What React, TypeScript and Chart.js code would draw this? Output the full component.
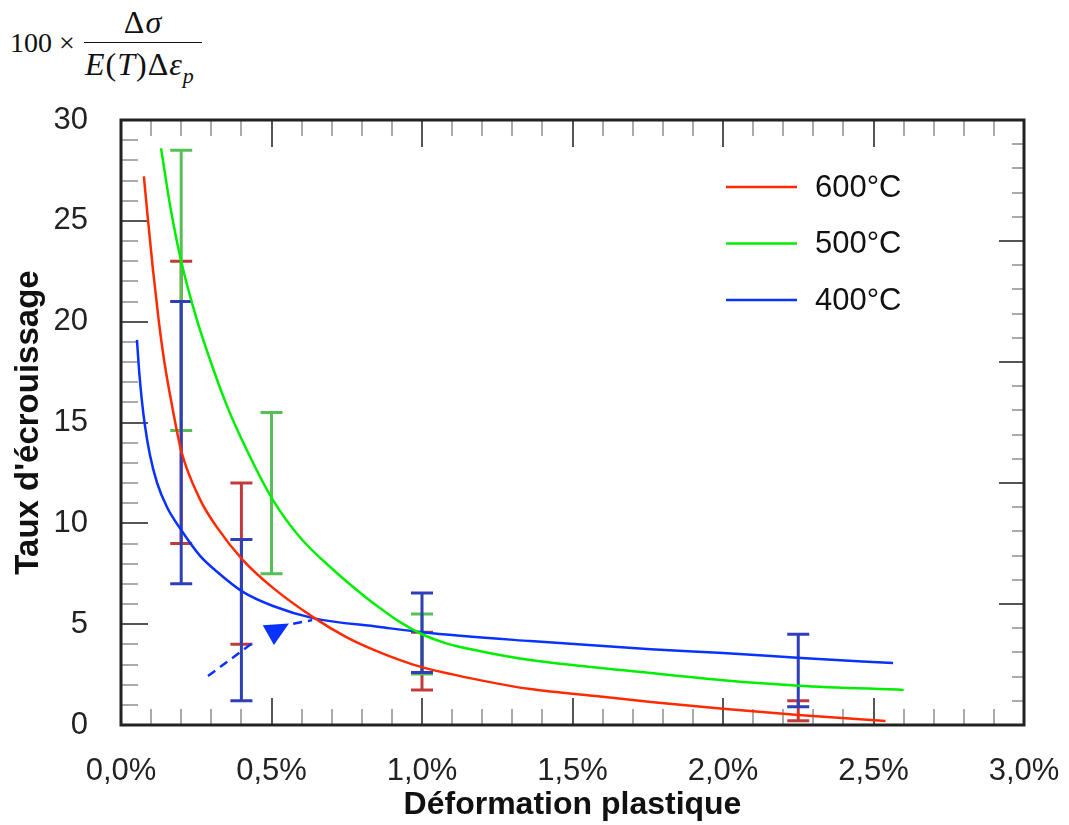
import React, { useEffect, useRef } from 'react';
import { Chart, registerables } from 'chart.js';
Chart.register(...registerables);

// ---- Data ----
const seriesLabels = ['600°C', '500°C', '400°C'];
const seriesColors = ['#ff2a00', '#00ee00', '#0a32ff'];

const x600 = [0.076, 0.09, 0.106, 0.125, 0.143, 0.17, 0.2, 0.262, 0.319, 0.405, 0.505, 0.638, 0.75, 0.86, 0.927, 1.0, 1.2, 1.36, 1.6, 1.76, 2.0, 2.25, 2.54];
const y600 = [27.2, 25.0, 22.6, 20.1, 18.1, 15.8, 13.6, 11.2, 9.8, 8.18, 6.8, 5.35, 4.35, 3.6, 3.22, 2.87, 2.2, 1.78, 1.4, 1.14, 0.8, 0.5, 0.2];

const x500 = [0.133, 0.165, 0.2, 0.25, 0.296, 0.35, 0.419, 0.505, 0.595, 0.705, 0.816, 0.86, 0.927, 1.0, 1.08, 1.19, 1.36, 1.76, 2.0, 2.25, 2.6];
const y500 = [28.6, 25.6, 23.0, 20.2, 18.1, 15.9, 13.6, 11.15, 9.3, 7.7, 6.3, 5.8, 5.1, 4.5, 4.05, 3.67, 3.22, 2.58, 2.22, 1.95, 1.74];

const x400 = [0.053, 0.06, 0.07, 0.08, 0.096, 0.12, 0.153, 0.2, 0.262, 0.319, 0.405, 0.505, 0.638, 0.86, 1.0, 1.36, 1.76, 2.0, 2.26, 2.565];
const y400 = [19.1, 17.6, 16.0, 14.8, 13.4, 12.0, 10.8, 9.67, 8.4, 7.6, 6.6, 5.9, 5.3, 4.86, 4.6, 4.16, 3.76, 3.57, 3.32, 3.07];

// error bars (x in %, low, high)
const err600X = [0.2, 0.4, 1.0, 2.25];
const err600Lo = [9, 4, 1.74, 0.21];
const err600Hi = [23, 12, 4.6, 1.2];
const err500X = [0.2, 0.5, 1.0];
const err500Lo = [14.6, 7.5, 2.53];
const err500Hi = [28.5, 15.5, 5.5];
const err400X = [0.2, 0.4, 1.0, 2.25];
const err400Lo = [7, 1.2, 2.6, 0.9];
const err400Hi = [21, 9.2, 6.55, 4.5];
const errColors = ['#c43a3a', '#55c055', '#2f3fb8'];

// annotation arrow (data coordinates)
const arrowTailX = [0.289, 0.44];
const arrowTailY = [2.43, 4.1];
const arrowHeadX = [0.471, 0.558, 0.508];
const arrowHeadY = [4.95, 5.03, 3.97];
const arrowEndX = [0.572, 0.635];
const arrowEndY = [5.02, 5.2];

const xTickLabels = ['0,0%', '0,5%', '1,0%', '1,5%', '2,0%', '2,5%', '3,0%'];
const yTickLabels = ['0', '5', '10', '15', '20', '25', '30'];

const FONT = '"Liberation Sans", Arial, Helvetica, sans-serif';

const toPts = (xs: number[], ys: number[]) => xs.map((x, i) => ({ x, y: ys[i] }));

const frameTicksPlugin = {
  id: 'frameTicks',
  beforeDatasetsDraw(chart: any) {
    const { ctx, chartArea: a, scales } = chart;
    const xs = scales.x, ys = scales.y, ys2 = scales.y2;
    ctx.save();
    ctx.lineWidth = 2;
    const line = (x1: number, y1: number, x2: number, y2: number, major: boolean) => {
      ctx.strokeStyle = major ? '#555' : '#aaa';
      ctx.beginPath();
      ctx.moveTo(x1, y1);
      ctx.lineTo(x2, y2);
      ctx.stroke();
    };
    for (let k = 1; k < 30; k++) {
      const px = Math.round(xs.getPixelForValue(k / 10));
      const major = k % 5 === 0;
      const len = major ? 27 : 16;
      line(px, a.bottom, px, a.bottom - len, major);
      line(px, a.top, px, a.top + len, major);
    }
    for (let k = 1; k < 30; k++) {
      const py = Math.round(ys.getPixelForValue(k));
      const major = k % 5 === 0;
      line(a.left, py, a.left + (major ? 27 : 17), py, major);
    }
    for (let k = 1; k < 25; k++) {
      const py = Math.round(ys2.getPixelForValue(k));
      const major = k % 5 === 0;
      line(a.right, py, a.right - (major ? 25 : 12), py, major);
    }
    // error bars
    const groups = [
      [err600X, err600Lo, err600Hi],
      [err500X, err500Lo, err500Hi],
      [err400X, err400Lo, err400Hi],
    ];
    ctx.lineWidth = 3;
    groups.forEach((g, gi) => {
      ctx.strokeStyle = errColors[gi];
      g[0].forEach((xv, i) => {
        const px = xs.getPixelForValue(xv);
        const pl = ys.getPixelForValue(g[1][i]);
        const ph = ys.getPixelForValue(g[2][i]);
        ctx.beginPath();
        ctx.moveTo(px, pl); ctx.lineTo(px, ph);
        ctx.moveTo(px - 11, pl); ctx.lineTo(px + 11, pl);
        ctx.moveTo(px - 11, ph); ctx.lineTo(px + 11, ph);
        ctx.stroke();
      });
    });
    ctx.restore();
  },
  afterDatasetsDraw(chart: any) {
    const { ctx, chartArea: a, scales } = chart;
    const xs = scales.x, ys = scales.y;
    ctx.save();
    // arrow
    ctx.strokeStyle = '#0a32ff';
    ctx.fillStyle = '#0a32ff';
    ctx.lineWidth = 2.5;
    ctx.setLineDash([9, 6]);
    const seg = (X: number[], Y: number[]) => {
      ctx.beginPath();
      X.forEach((v, i) => {
        const px = xs.getPixelForValue(v), py = ys.getPixelForValue(Y[i]);
        if (i === 0) ctx.moveTo(px, py); else ctx.lineTo(px, py);
      });
      ctx.stroke();
    };
    seg(arrowTailX, arrowTailY);
    seg(arrowEndX, arrowEndY);
    ctx.setLineDash([]);
    ctx.beginPath();
    arrowHeadX.forEach((v, i) => {
      const px = xs.getPixelForValue(v), py = ys.getPixelForValue(arrowHeadY[i]);
      if (i === 0) ctx.moveTo(px, py); else ctx.lineTo(px, py);
    });
    ctx.closePath();
    ctx.fill();
    // frame
    ctx.strokeStyle = '#222';
    ctx.lineWidth = 3;
    ctx.strokeRect(a.left, a.top, a.right - a.left, a.bottom - a.top);
    ctx.restore();
  },
  afterDraw(chart: any) {
    const { ctx, chartArea: a } = chart;
    ctx.save();
    ctx.font = `31px ${FONT}`;
    ctx.textBaseline = 'middle';
    ctx.textAlign = 'left';
    seriesLabels.forEach((lab, i) => {
      const yy = a.top + 67 + i * 56.5;
      ctx.strokeStyle = seriesColors[i];
      ctx.lineWidth = 2.5;
      ctx.beginPath();
      ctx.moveTo(a.left + 605, yy);
      ctx.lineTo(a.left + 676, yy);
      ctx.stroke();
      ctx.fillStyle = '#111';
      ctx.fillText(lab, a.left + 694, yy + 1);
    });
    ctx.restore();
  },
};

function Formula() {
  const serif = '"Liberation Serif", "Times New Roman", serif';
  const base: React.CSSProperties = { position: 'absolute', fontFamily: serif, color: '#111', whiteSpace: 'nowrap' };
  return (
    <>
      <div style={{ ...base, fontSize: 28, lineHeight: '28px', left: 10, top: 29 }}>100 ×</div>
      <div style={{ ...base, fontSize: 32, lineHeight: '32px', left: 84, width: 118, top: 6, textAlign: 'center', letterSpacing: 1 }}>Δ<i>σ</i></div>
      <div style={{ position: 'absolute', left: 84, top: 42, width: 118, height: 0, borderTop: '1.5px solid #111' }} />
      <div style={{ ...base, fontSize: 32, lineHeight: '32px', left: 85, top: 48, letterSpacing: 1 }}>
        <i>E</i>(<i>T</i>)Δ<i>ε</i><span style={{ fontSize: 22, position: 'relative', top: 8 }}><i>p</i></span>
      </div>
    </>
  );
}

export default function App() {
  const ref = useRef<HTMLCanvasElement | null>(null);
  useEffect(() => {
    if (!ref.current) return;
    const mk = (xs: number[], ys: number[], i: number) => ({
      label: seriesLabels[i],
      data: toPts(xs, ys),
      borderColor: seriesColors[i],
      backgroundColor: seriesColors[i],
      borderWidth: 2.5,
      pointRadius: 0,
      fill: false,
      cubicInterpolationMode: 'monotone' as const,
    });
    const chart = new Chart(ref.current, {
      type: 'line',
      data: {
        datasets: [mk(x600, y600, 0), mk(x500, y500, 1), mk(x400, y400, 2)],
      },
      options: {
        animation: false,
        responsive: false,
        maintainAspectRatio: false,
        layout: { padding: { top: 120, right: 45, left: 0, bottom: 0 } },
        plugins: { legend: { display: false }, tooltip: { enabled: false }, title: { display: false } },
        scales: {
          x: {
            type: 'linear',
            min: 0,
            max: 3,
            grid: { display: false, drawTicks: false },
            border: { display: false },
            ticks: {
              stepSize: 0.5,
              padding: 28,
              color: '#222',
              font: { family: FONT, size: 31 },
              maxRotation: 0,
              callback: (_v: any, i: number) => xTickLabels[i],
            },
            title: { display: true, text: 'Déformation plastique', color: '#111', font: { family: FONT, size: 32, weight: 'bold' }, padding: { top: 0, bottom: 1 } },
            afterFit: (s: any) => { s.height = 100; s.paddingLeft = 0; s.paddingRight = 0; },
          },
          y: {
            type: 'linear',
            min: 0,
            max: 30,
            grid: { display: false, drawTicks: false },
            border: { display: false },
            ticks: {
              stepSize: 5,
              padding: 33,
              color: '#222',
              font: { family: FONT, size: 31 },
              callback: (_v: any, i: number) => yTickLabels[i],
            },
            title: { display: true, text: "Taux d'écrouissage", color: '#111', font: { family: FONT, size: 33, weight: 'bold' }, padding: { top: 9, bottom: 0 } },
            afterFit: (s: any) => { s.width = 121; },
          },
          y2: {
            type: 'linear',
            position: 'right',
            min: 0,
            max: 25,
            display: false,
          },
        },
      },
      plugins: [frameTicksPlugin],
    } as any);
    return () => chart.destroy();
  }, []);
  return (
    <div style={{ position: 'absolute', left: 0, top: 0, width: 1069, height: 825, background: '#fff' }}>
      <Formula />
      <canvas ref={ref} width={1069} height={825} style={{ position: 'absolute', left: 0, top: 0, display: 'block' }} />
    </div>
  );
}
